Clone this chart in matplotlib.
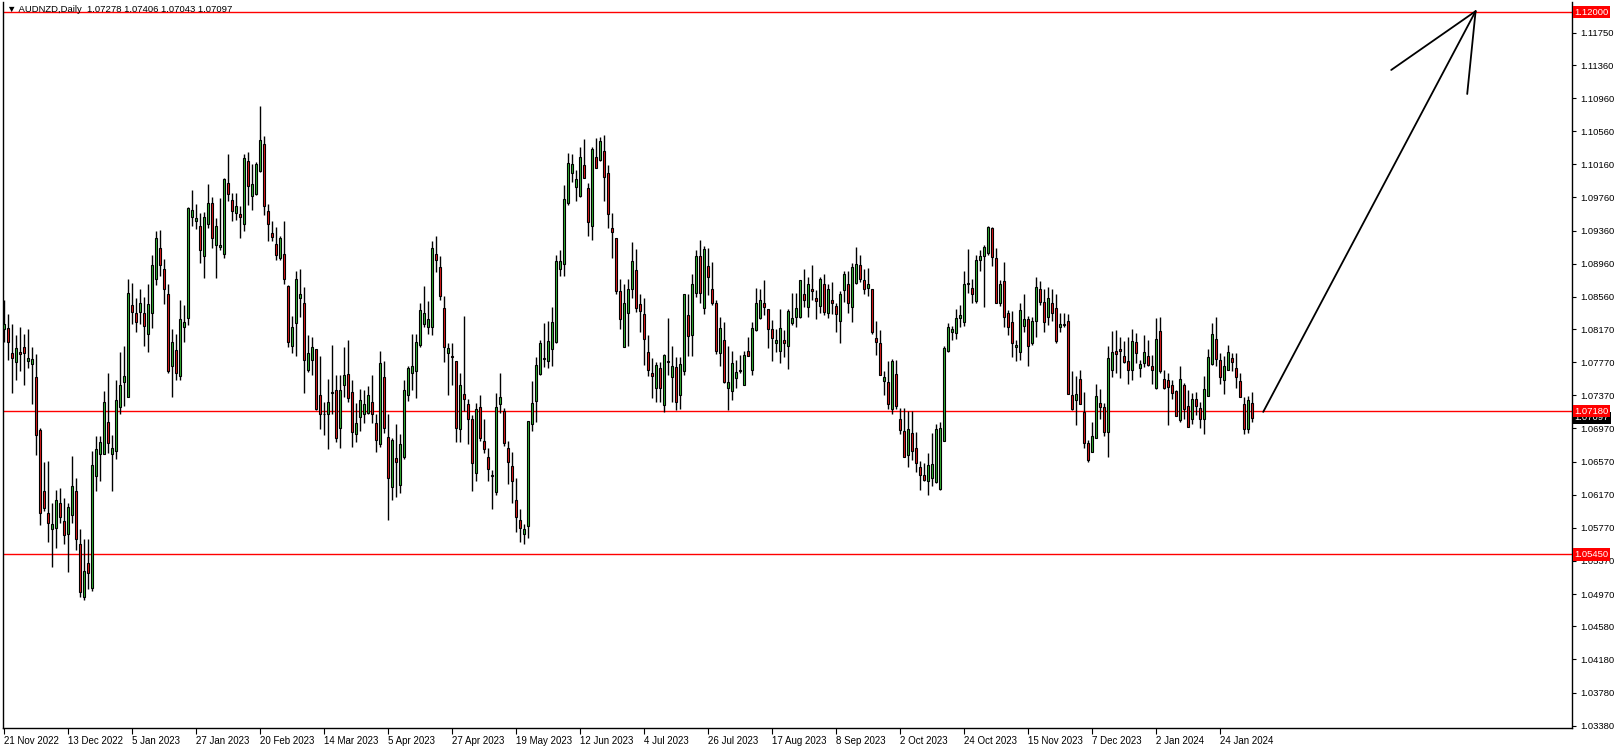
import matplotlib
matplotlib.use("Agg")
import matplotlib.pyplot as plt
import matplotlib.transforms as mtransforms

plt.rcParams['font.family'] = ['Liberation Sans', 'DejaVu Sans']

# daily AUDNZD candles, 21 Nov 2022 .. 5 Feb 2024 (weekdays)
opens = [
    1.0817, 1.0818, 1.0788, 1.0777, 1.0789, 1.0795, 1.0779, 1.0775, 1.0759, 1.0695,
    1.0621, 1.0595, 1.0576, 1.0577, 1.0607, 1.0585, 1.0569, 1.0593, 1.0621, 1.0557,
    1.0494, 1.0534, 1.0504, 1.0640, 1.0666, 1.0666, 1.0705, 1.0666, 1.0670, 1.0723,
    1.0753, 1.0735, 1.0846, 1.0837, 1.0838, 1.0836, 1.0811, 1.0837, 1.0878, 1.0915,
    1.0890, 1.0859, 1.0773, 1.0792, 1.0760, 1.0820, 1.0831, 1.0952, 1.0947, 1.0942,
    1.0905, 1.0944, 1.0969, 1.0919, 1.0916, 1.0908, 1.0994, 1.0973, 1.0957, 1.0956,
    1.0944, 1.1020, 1.0978, 1.0980, 1.1008, 1.1040, 1.0960, 1.0933, 1.0920, 1.0903,
    1.0908, 1.0869, 1.0796, 1.0824, 1.0854, 1.0848, 1.0768, 1.0780, 1.0793, 1.0737,
    1.0715, 1.0715, 1.0740, 1.0744, 1.0698, 1.0749, 1.0763, 1.0741, 1.0690, 1.0711,
    1.0715, 1.0716, 1.0729, 1.0704, 1.0678, 1.0759, 1.0687, 1.0626, 1.0661, 1.0629,
    1.0662, 1.0737, 1.0764, 1.0766, 1.0798, 1.0823, 1.0819, 1.0820, 1.0908, 1.0892,
    1.0843, 1.0788, 1.0784, 1.0778, 1.0696, 1.0739, 1.0727, 1.0708, 1.0643, 1.0723,
    1.0682, 1.0663, 1.0640, 1.0620, 1.0726, 1.0718, 1.0674, 1.0652, 1.0611, 1.0587,
    1.0570, 1.0579, 1.0702, 1.0730, 1.0763, 1.0781, 1.0778, 1.0793, 1.0802, 1.0889,
    1.0896, 1.0969, 1.1006, 1.0989, 1.0978, 1.1015, 1.0987, 1.0941, 1.1025, 1.1021,
    1.1032, 1.1005, 1.0939, 1.0927, 1.0863, 1.0795, 1.0837, 1.0866, 1.0888, 1.0847,
    1.0835, 1.0789, 1.0764, 1.0746, 1.0770, 1.0725, 1.0777, 1.0759, 1.0771, 1.0737,
    1.0767, 1.0834, 1.0810, 1.0861, 1.0905, 1.0843, 1.0893, 1.0866, 1.0848, 1.0788,
    1.0804, 1.0746, 1.0742, 1.0758, 1.0768, 1.0750, 1.0790, 1.0768, 1.0816, 1.0831,
    1.0848, 1.0841, 1.0817, 1.0800, 1.0790, 1.0804, 1.0796, 1.0824, 1.0832, 1.0832,
    1.0860, 1.0844, 1.0866, 1.0854, 1.0845, 1.0871, 1.0836, 1.0852, 1.0845, 1.0827,
    1.0864, 1.0872, 1.0844, 1.0873, 1.0894, 1.0876, 1.0867, 1.0865, 1.0806, 1.0800,
    1.0754, 1.0753, 1.0720, 1.0763, 1.0708, 1.0694, 1.0665, 1.0691, 1.0674, 1.0650,
    1.0641, 1.0633, 1.0637, 1.0632, 1.0624, 1.0682, 1.0790, 1.0814, 1.0812, 1.0830,
    1.0825, 1.0872, 1.0867, 1.0851, 1.0900, 1.0905, 1.0909, 1.0939, 1.0903, 1.0848,
    1.0875, 1.0836, 1.0826, 1.0795, 1.0789, 1.0821, 1.0829, 1.0800, 1.0827, 1.0866,
    1.0850, 1.0832, 1.0849, 1.0842, 1.0819, 1.0823, 1.0827, 1.0737, 1.0731, 1.0757,
    1.0717, 1.0680, 1.0669, 1.0686, 1.0728, 1.0723, 1.0693, 1.0768, 1.0790, 1.0793,
    1.0784, 1.0778, 1.0768, 1.0801, 1.0770, 1.0776, 1.0784, 1.0772, 1.0746, 1.0815,
    1.0757, 1.0755, 1.0750, 1.0742, 1.0707, 1.0750, 1.0724, 1.0708, 1.0733, 1.0722,
    1.0708, 1.0736, 1.0775, 1.0805, 1.0780, 1.0756, 1.0768, 1.0782, 1.0770, 1.0754,
    1.0726, 1.0696, 1.07278,
]
highs = [
    1.0852, 1.0835, 1.0823, 1.0810, 1.0819, 1.0811, 1.0817, 1.0795, 1.0787, 1.0698,
    1.0657, 1.0658, 1.0607, 1.0623, 1.0625, 1.0613, 1.0607, 1.0664, 1.0637, 1.0575,
    1.0564, 1.0564, 1.0670, 1.0688, 1.0688, 1.0742, 1.0764, 1.0689, 1.0755, 1.0789,
    1.0796, 1.0878, 1.0873, 1.0854, 1.0865, 1.0856, 1.0872, 1.0906, 1.0936, 1.0937,
    1.0902, 1.0871, 1.0817, 1.0811, 1.0852, 1.0846, 1.0964, 1.0985, 1.0968, 1.0957,
    1.0958, 1.0992, 1.0976, 1.0951, 1.0975, 1.1000, 1.1029, 1.0982, 1.0982, 1.0966,
    1.1028, 1.1031, 1.1017, 1.1019, 1.1086, 1.1050, 1.0968, 1.0947, 1.0940, 1.0929,
    1.0948, 1.0870, 1.0833, 1.0887, 1.0890, 1.0868, 1.0810, 1.0808, 1.0793, 1.0784,
    1.0729, 1.0757, 1.0798, 1.0761, 1.0761, 1.0795, 1.0804, 1.0756, 1.0728, 1.0745,
    1.0743, 1.0748, 1.0762, 1.0715, 1.0790, 1.0778, 1.0714, 1.0686, 1.0702, 1.0690,
    1.0755, 1.0773, 1.0811, 1.0811, 1.0848, 1.0869, 1.0851, 1.0923, 1.0929, 1.0905,
    1.0857, 1.0800, 1.0800, 1.0778, 1.0764, 1.0833, 1.0733, 1.0713, 1.0728, 1.0737,
    1.0708, 1.0673, 1.0647, 1.0740, 1.0764, 1.0722, 1.0682, 1.0668, 1.0637, 1.0600,
    1.0582, 1.0706, 1.0754, 1.0783, 1.0804, 1.0824, 1.0827, 1.0844, 1.0907, 1.0912,
    1.0991, 1.1030, 1.1028, 1.1009, 1.1037, 1.1047, 1.0994, 1.1037, 1.1048, 1.1049,
    1.1051, 1.1015, 1.0957, 1.0927, 1.0878, 1.0872, 1.0878, 1.0922, 1.0914, 1.0860,
    1.0855, 1.0810, 1.0782, 1.0777, 1.0777, 1.0787, 1.0831, 1.0797, 1.0783, 1.0783,
    1.0859, 1.0860, 1.0883, 1.0913, 1.0925, 1.0917, 1.0915, 1.0898, 1.0852, 1.0832,
    1.0826, 1.0797, 1.0791, 1.0780, 1.0786, 1.0790, 1.0808, 1.0826, 1.0867, 1.0865,
    1.0876, 1.0841, 1.0828, 1.0817, 1.0841, 1.0816, 1.0841, 1.0861, 1.0861, 1.0876,
    1.0889, 1.0880, 1.0895, 1.0864, 1.0880, 1.0884, 1.0871, 1.0874, 1.0848, 1.0863,
    1.0887, 1.0887, 1.0897, 1.0916, 1.0907, 1.0890, 1.0891, 1.0865, 1.0827, 1.0816,
    1.0766, 1.0779, 1.0781, 1.0780, 1.0722, 1.0722, 1.0718, 1.0718, 1.0693, 1.0658,
    1.0655, 1.0667, 1.0691, 1.0702, 1.0705, 1.0797, 1.0824, 1.0821, 1.0841, 1.0846,
    1.0887, 1.0914, 1.0878, 1.0907, 1.0913, 1.0919, 1.0942, 1.0940, 1.0915, 1.0876,
    1.0898, 1.0840, 1.0839, 1.0804, 1.0848, 1.0860, 1.0833, 1.0832, 1.0880, 1.0875,
    1.0866, 1.0868, 1.0866, 1.0860, 1.0836, 1.0836, 1.0835, 1.0766, 1.0760, 1.0768,
    1.0741, 1.0683, 1.0705, 1.0751, 1.0745, 1.0728, 1.0796, 1.0815, 1.0816, 1.0808,
    1.0803, 1.0808, 1.0817, 1.0812, 1.0780, 1.0810, 1.0804, 1.0786, 1.0830, 1.0832,
    1.0768, 1.0764, 1.0756, 1.0744, 1.0772, 1.0752, 1.0743, 1.0740, 1.0741, 1.0729,
    1.0760, 1.0793, 1.0824, 1.0832, 1.0788, 1.0784, 1.0798, 1.0788, 1.0788, 1.0764,
    1.0735, 1.0736, 1.07406,
]
lows = [
    1.0802, 1.0780, 1.0740, 1.0756, 1.0766, 1.0750, 1.0770, 1.0727, 1.0665, 1.0580,
    1.0597, 1.0560, 1.0530, 1.0553, 1.0583, 1.0557, 1.0524, 1.0583, 1.0550, 1.0493,
    1.0490, 1.0503, 1.0501, 1.0622, 1.0634, 1.0666, 1.0667, 1.0622, 1.0660, 1.0714,
    1.0724, 1.0735, 1.0823, 1.0813, 1.0823, 1.0796, 1.0789, 1.0818, 1.0870, 1.0881,
    1.0847, 1.0764, 1.0735, 1.0756, 1.0755, 1.0802, 1.0822, 1.0942, 1.0938, 1.0897,
    1.0879, 1.0939, 1.0915, 1.0879, 1.0913, 1.0903, 1.0972, 1.0948, 1.0949, 1.0927,
    1.0936, 1.0967, 1.0961, 1.0979, 1.1007, 1.0955, 1.0923, 1.0924, 1.0900, 1.0901,
    1.0872, 1.0795, 1.0788, 1.0784, 1.0832, 1.0740, 1.0765, 1.0762, 1.0719, 1.0696,
    1.0689, 1.0672, 1.0715, 1.0681, 1.0674, 1.0735, 1.0729, 1.0675, 1.0681, 1.0694,
    1.0703, 1.0714, 1.0703, 1.0669, 1.0675, 1.0691, 1.0587, 1.0611, 1.0614, 1.0619,
    1.0660, 1.0730, 1.0743, 1.0734, 1.0795, 1.0819, 1.0811, 1.0810, 1.0886, 1.0852,
    1.0777, 1.0738, 1.0750, 1.0681, 1.0681, 1.0718, 1.0678, 1.0622, 1.0633, 1.0682,
    1.0667, 1.0633, 1.0600, 1.0617, 1.0716, 1.0676, 1.0630, 1.0607, 1.0572, 1.0560,
    1.0557, 1.0565, 1.0694, 1.0705, 1.0762, 1.0771, 1.0770, 1.0773, 1.0800, 1.0881,
    1.0881, 1.0967, 1.0995, 1.0972, 1.0977, 1.0999, 1.0930, 1.0925, 1.1011, 1.1020,
    1.0972, 1.0939, 1.0903, 1.0860, 1.0817, 1.0795, 1.0797, 1.0855, 1.0838, 1.0814,
    1.0774, 1.0760, 1.0734, 1.0729, 1.0729, 1.0717, 1.0761, 1.0729, 1.0719, 1.0721,
    1.0761, 1.0785, 1.0785, 1.0856, 1.0849, 1.0835, 1.0858, 1.0846, 1.0787, 1.0772,
    1.0752, 1.0719, 1.0731, 1.0746, 1.0764, 1.0750, 1.0785, 1.0762, 1.0815, 1.0829,
    1.0834, 1.0794, 1.0779, 1.0789, 1.0776, 1.0783, 1.0769, 1.0822, 1.0820, 1.0830,
    1.0844, 1.0832, 1.0852, 1.0829, 1.0836, 1.0834, 1.0830, 1.0835, 1.0814, 1.0800,
    1.0850, 1.0836, 1.0825, 1.0872, 1.0874, 1.0859, 1.0857, 1.0811, 1.0786, 1.0762,
    1.0737, 1.0720, 1.0714, 1.0721, 1.0690, 1.0662, 1.0651, 1.0659, 1.0645, 1.0623,
    1.0633, 1.0617, 1.0627, 1.0631, 1.0623, 1.0682, 1.0789, 1.0804, 1.0805, 1.0820,
    1.0821, 1.0861, 1.0849, 1.0849, 1.0887, 1.0844, 1.0907, 1.0893, 1.0848, 1.0845,
    1.0819, 1.0810, 1.0783, 1.0778, 1.0780, 1.0814, 1.0773, 1.0798, 1.0808, 1.0846,
    1.0813, 1.0822, 1.0827, 1.0800, 1.0814, 1.0819, 1.0739, 1.0719, 1.0701, 1.0726,
    1.0674, 1.0657, 1.0668, 1.0685, 1.0709, 1.0688, 1.0662, 1.0759, 1.0764, 1.0758,
    1.0776, 1.0751, 1.0755, 1.0776, 1.0759, 1.0771, 1.0772, 1.0751, 1.0745, 1.0764,
    1.0745, 1.0701, 1.0733, 1.0712, 1.0705, 1.0709, 1.0699, 1.0702, 1.0713, 1.0698,
    1.0690, 1.0736, 1.0774, 1.0772, 1.0751, 1.0739, 1.0768, 1.0766, 1.0746, 1.0735,
    1.0690, 1.0692, 1.07043,
]
closes = [
    1.0823, 1.0801, 1.0782, 1.0794, 1.0787, 1.0788, 1.0782, 1.0781, 1.0689, 1.0595,
    1.0601, 1.0583, 1.0581, 1.0611, 1.0590, 1.0568, 1.0602, 1.0628, 1.0564, 1.0500,
    1.0525, 1.0523, 1.0653, 1.0672, 1.0681, 1.0729, 1.0680, 1.0674, 1.0731, 1.0750,
    1.0760, 1.0861, 1.0838, 1.0826, 1.0849, 1.0821, 1.0847, 1.0894, 1.0927, 1.0894,
    1.0865, 1.0766, 1.0801, 1.0764, 1.0829, 1.0825, 1.0963, 1.0961, 1.0951, 1.0913,
    1.0953, 1.0969, 1.0927, 1.0942, 1.0918, 1.0998, 1.0980, 1.0960, 1.0966, 1.0952,
    1.1024, 1.0990, 1.0992, 1.1016, 1.1046, 1.0966, 1.0944, 1.0928, 1.0907, 1.0927,
    1.0878, 1.0802, 1.0820, 1.0877, 1.0860, 1.0780, 1.0788, 1.0795, 1.0720, 1.0715,
    1.0714, 1.0729, 1.0741, 1.0685, 1.0744, 1.0762, 1.0734, 1.0693, 1.0703, 1.0731,
    1.0727, 1.0737, 1.0715, 1.0683, 1.0776, 1.0698, 1.0637, 1.0683, 1.0656, 1.0678,
    1.0743, 1.0770, 1.0772, 1.0802, 1.0840, 1.0836, 1.0829, 1.0915, 1.0900, 1.0857,
    1.0795, 1.0794, 1.0783, 1.0697, 1.0749, 1.0732, 1.0709, 1.0655, 1.0720, 1.0685,
    1.0672, 1.0648, 1.0641, 1.0723, 1.0735, 1.0680, 1.0657, 1.0634, 1.0590, 1.0577,
    1.0576, 1.0706, 1.0728, 1.0774, 1.0800, 1.0782, 1.0803, 1.0826, 1.0899, 1.0899,
    1.0974, 1.1018, 1.1016, 1.0998, 1.1025, 1.1000, 1.0946, 1.1035, 1.1012, 1.1044,
    1.1001, 1.0956, 1.0934, 1.0863, 1.0829, 1.0849, 1.0865, 1.0899, 1.0842, 1.0839,
    1.0805, 1.0768, 1.0760, 1.0774, 1.0746, 1.0786, 1.0778, 1.0773, 1.0729, 1.0775,
    1.0859, 1.0809, 1.0872, 1.0905, 1.0861, 1.0914, 1.0880, 1.0848, 1.0790, 1.0818,
    1.0753, 1.0753, 1.0776, 1.0765, 1.0767, 1.0786, 1.0785, 1.0818, 1.0848, 1.0852,
    1.0844, 1.0817, 1.0806, 1.0804, 1.0818, 1.0800, 1.0839, 1.0830, 1.0843, 1.0876,
    1.0852, 1.0871, 1.0863, 1.0851, 1.0877, 1.0838, 1.0866, 1.0848, 1.0835, 1.0860,
    1.0883, 1.0848, 1.0892, 1.0896, 1.0877, 1.0866, 1.0872, 1.0814, 1.0801, 1.0762,
    1.0759, 1.0726, 1.0779, 1.0724, 1.0695, 1.0662, 1.0696, 1.0670, 1.0655, 1.0641,
    1.0635, 1.0653, 1.0654, 1.0696, 1.0697, 1.0794, 1.0819, 1.0817, 1.0830, 1.0834,
    1.0872, 1.0873, 1.0859, 1.0900, 1.0905, 1.0916, 1.0940, 1.0904, 1.0848, 1.0871,
    1.0832, 1.0820, 1.0800, 1.0798, 1.0840, 1.0829, 1.0797, 1.0827, 1.0868, 1.0850,
    1.0826, 1.0855, 1.0836, 1.0803, 1.0823, 1.0822, 1.0739, 1.0720, 1.0739, 1.0726,
    1.0680, 1.0659, 1.0688, 1.0736, 1.0723, 1.0693, 1.0782, 1.0789, 1.0787, 1.0790,
    1.0777, 1.0768, 1.0803, 1.0788, 1.0775, 1.0789, 1.0774, 1.0768, 1.0805, 1.0766,
    1.0746, 1.0747, 1.0740, 1.0712, 1.0757, 1.0721, 1.0699, 1.0733, 1.0724, 1.0709,
    1.0745, 1.0783, 1.0811, 1.0781, 1.0759, 1.0773, 1.0789, 1.0777, 1.0759, 1.0735,
    1.0696, 1.0731, 1.07097,
]

date_labels = ['21 Nov 2022', '13 Dec 2022', '5 Jan 2023', '27 Jan 2023', '20 Feb 2023',
               '14 Mar 2023', '5 Apr 2023', '27 Apr 2023', '19 May 2023', '12 Jun 2023',
               '4 Jul 2023', '26 Jul 2023', '17 Aug 2023', '8 Sep 2023', '2 Oct 2023',
               '24 Oct 2023', '15 Nov 2023', '7 Dec 2023', '2 Jan 2024', '24 Jan 2024']
label_step = 16  # bars between date labels

price_ticks = [1.03380, 1.03780, 1.04180, 1.04580, 1.04970, 1.05370, 1.05770, 1.06170,
               1.06570, 1.06970, 1.07370, 1.07770, 1.08170, 1.08560, 1.08960, 1.09360,
               1.09760, 1.10160, 1.10560, 1.10960, 1.11360, 1.11750]

levels = [1.12000, 1.07180, 1.05450]   # horizontal red lines
symbol = 'AUDNZD,Daily'

# hand-drawn arrow: shaft start -> tip, plus two head strokes
arrow_shaft = ([314.9, 368.0], [1.0717, 1.1201])
arrow_head_left = ([346.9, 368.0], [1.1130, 1.1201])
arrow_head_right = ([365.9, 368.0], [1.1101, 1.1201])

W, H = 1618, 749
fig = plt.figure(figsize=(W / 100, H / 100), dpi=100)
ax = fig.add_axes([2.5 / W, 21 / H, 1569.5 / W, 726 / H])

bull = '#33b533'
bear = '#e21a1a'
n = len(opens)
xs = list(range(n))

ax.vlines(xs, lows, highs, color='black', linewidth=1.0, zorder=2)
bottoms = [min(o, c) for o, c in zip(opens, closes)]
heights = [max(abs(c - o), 0.00003) for o, c in zip(opens, closes)]
colors = [bull if c >= o else bear for o, c in zip(opens, closes)]
ax.bar(xs, heights, bottom=bottoms, width=0.55, color=colors,
       edgecolor='black', linewidth=0.8, zorder=3)

for lv in levels:
    ax.axhline(lv, color='red', linewidth=1.0, zorder=1)

for px, py in (arrow_shaft, arrow_head_left, arrow_head_right):
    ax.plot(px, py, color='black', linewidth=1.3, solid_capstyle='round', zorder=4)

ax.set_xlim(-0.3, 392.1)
ax.set_ylim(1.03352, 1.12121)

ax.yaxis.tick_right()
ax.set_yticks(price_ticks)
ax.set_yticklabels([f'{v:.5f}' for v in price_ticks])
ax.tick_params(axis='y', direction='out', length=3, width=0.8, pad=3,
               labelsize=6.8, colors='black')

ax.set_xticks([i * label_step for i in range(len(date_labels))])
ax.set_xticklabels(date_labels)
for t in ax.get_xticklabels():
    t.set_ha('left')
ax.tick_params(axis='x', direction='out', length=4, width=0.8, pad=2, labelsize=7)

for sp in ax.spines.values():
    sp.set_linewidth(1.0)
ax.spines['top'].set_visible(False)

# price boxes on the right axis
tr = mtransforms.blended_transform_factory(ax.transAxes, ax.transData)
for lv in levels:
    ax.text(1.0015, lv, f'{lv:.5f}', transform=tr, ha='left', va='center',
            fontsize=6.8, color='white', clip_on=False, zorder=10,
            bbox=dict(boxstyle='square,pad=0.18', fc='red', ec='none'))
ax.text(1.0015, closes[-1], f'{closes[-1]:.5f}', transform=tr, ha='left', va='center',
        fontsize=6.8, color='white', clip_on=False, zorder=9,
        bbox=dict(boxstyle='square,pad=0.18', fc='black', ec='none'))

header = f'\u25bc {symbol}  {opens[-1]:.5f} {highs[-1]:.5f} {lows[-1]:.5f} {closes[-1]:.5f}'
fig.text(7 / W, 1 - 10 / H, header, fontsize=6.8, va='center', ha='left')

fig.savefig('out.png', dpi=100)
